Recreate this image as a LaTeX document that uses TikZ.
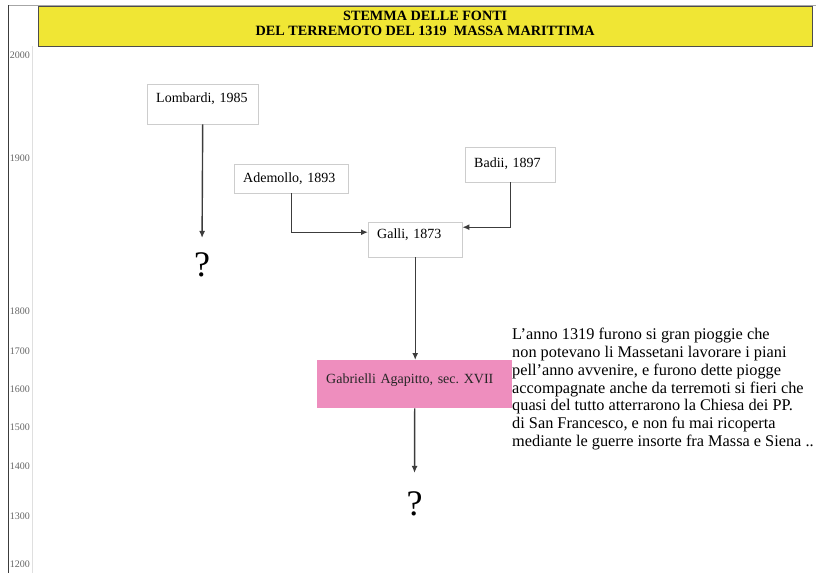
\documentclass[tikz,border=0pt]{standalone}
\usepackage{fontspec}
\setmainfont{Liberation Serif}
\usetikzlibrary{arrows.meta, positioning, calc}

\definecolor{bannerylw}{RGB}{240,230,52}
\definecolor{secpink}{RGB}{238,142,190}
\definecolor{boxgray}{RGB}{205,205,205}
\definecolor{linegray}{RGB}{60,60,60}

\newcommand{\boxfont}{\fontsize{14}{16}\selectfont}
\newcommand{\bannerfont}{\fontsize{14.2}{15.5}\selectfont\bfseries}
\newcommand{\excerptfont}{\fontsize{16.3}{17.8}\selectfont}

\begin{document}
\begin{tikzpicture}[
    x=1pt, y=-1pt,
    src/.style={draw=boxgray, anchor=north west, align=left, inner xsep=9pt, inner ysep=0pt, font=\boxfont},
    arr/.style={-{Latex[length=7pt,width=6pt]}, line width=1.4pt, draw=linegray},
    qmark/.style={font=\fontsize{36}{36}\selectfont, inner sep=0pt, anchor=base},
    yearlbl/.style={font=\fontsize{10}{10}\selectfont, anchor=east, inner sep=0pt, text=gray!80!black}
]
\useasboundingbox (0,0) rectangle (818,573);

% frame and time axis
\draw[gray!70] (8,5) -- (816,5);
\draw[linegray, line width=1pt] (8,5) -- (8,573);
\draw[gray!25] (32,46) -- (32,573);
\foreach \yr/\ypos in {2000/55, 1900/158, 1800/311, 1700/351, 1600/389, 1500/427, 1400/466, 1300/516, 1200/564}
    \node[yearlbl] (yr\yr) at (30,\ypos) {\yr};

% banner
\node[draw=gray!60!black, fill=bannerylw, anchor=north west, minimum width=774pt, minimum height=40pt,
      align=center, font=\bannerfont, text depth=6pt] (banner) at (38,6)
      {STEMMA DELLE FONTI\\DEL TERREMOTO DEL 1319\ \ MASSA MARITTIMA};

% sources
\node[src, text width=93pt, text height=18pt, text depth=22pt] (lombardi) at (147,84) {Lombardi, 1985};
\node[src, text width=96pt, text height=18pt, text depth=11pt] (ademollo) at (234,164) {Ademollo, 1893};
\node[src, text width=72pt, text height=20pt, text depth=15pt] (badii) at (465,147) {Badii, 1897};
\node[src, text width=76pt, text height=16pt, text depth=19pt] (galli) at (368,222) {Galli, 1873};
\node[src, draw=none, fill=secpink, text=black!85, text width=177pt, text height=23pt, text depth=25pt] (gabrielli) at (317,360) {Gabrielli Agapitto, sec.\ XVII};

\node[qmark] (q1) at (202,276) {?};
\node[qmark] (q2) at (414.5,515) {?};

% quoted passage
\node[anchor=north west, align=left, inner sep=0pt, font=\excerptfont] (excerpt) at (512,328)
    {L’anno 1319 furono si gran pioggie che\\
     non potevano li Massetani lavorare i piani\\
     pell’anno avvenire, e furono dette piogge\\
     accompagnate anche da terremoti si fieri che\\
     quasi del tutto atterrarono la Chiesa dei PP.\\
     di San Francesco, e non fu mai ricoperta\\
     mediante le guerre insorte fra Massa e Siena ..};

\draw[arr, shorten >=14pt] (lombardi.south) -- (q1.north);
\draw[arr] (ademollo.south) |- ([yshift=7.5pt]galli.west);
\draw[arr] (badii.south) |- ([yshift=12.5pt]galli.east);
\draw[arr] (galli.south) -- (galli.south |- gabrielli.north);
\draw[arr, shorten >=18pt] (gabrielli.south) -- (q2.north);
\end{tikzpicture}
\end{document}
